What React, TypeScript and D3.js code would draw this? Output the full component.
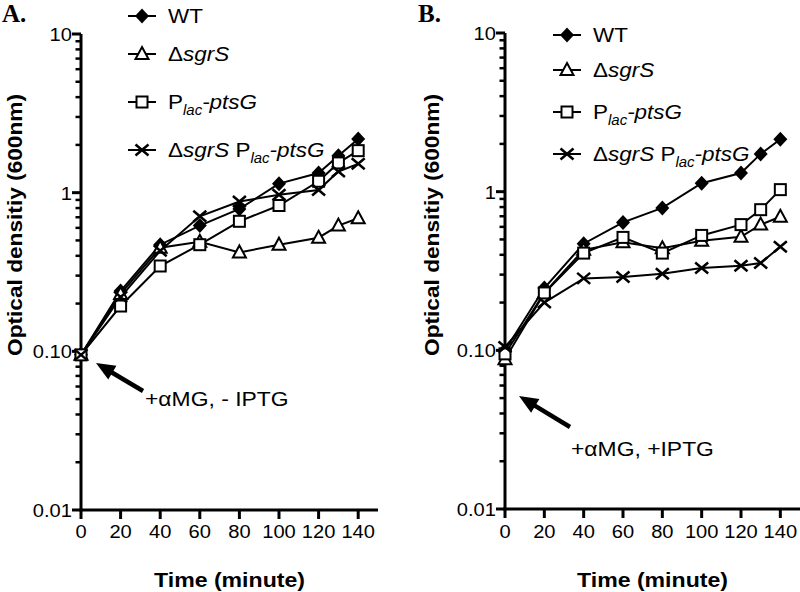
import React from "react";
import * as d3 from "d3";

const times = [0, 20, 40, 60, 80, 100, 120, 130, 140];

const wtA = [0.095, 0.24, 0.47, 0.62, 0.79, 1.14, 1.33, 1.71, 2.18];
const sgrSA = [0.095, 0.23, 0.45, 0.49, 0.42, 0.47, 0.52, 0.62, 0.69];
const placA = [0.095, 0.193, 0.345, 0.47, 0.66, 0.83, 1.18, 1.54, 1.84];
const sgrSPlacA = [0.095, 0.22, 0.43, 0.71, 0.88, 0.97, 1.04, 1.36, 1.52];

const wtB = [0.1, 0.247, 0.47, 0.64, 0.79, 1.13, 1.31, 1.73, 2.14];
const sgrSB = [0.088, 0.23, 0.43, 0.48, 0.44, 0.49, 0.52, 0.62, 0.695];
const placB = [0.095, 0.23, 0.41, 0.515, 0.41, 0.53, 0.62, 0.77, 1.03];
const sgrSPlacB = [0.105, 0.2, 0.284, 0.29, 0.304, 0.33, 0.341, 0.355, 0.45];

const xTicks = [0, 20, 40, 60, 80, 100, 120, 140];
const yTicks = [10, 1, 0.1, 0.01];
const yTickLabels = ["10", "1", "0.10", "0.01"];
const markerTypes = ["diamond", "triangle", "square", "cross"];

const SANS = "'Liberation Sans', Arial, sans-serif";
const SERIF = "'Liberation Serif', 'Times New Roman', serif";

function Txt({
  x,
  y,
  sx = 1.1,
  rot = 0,
  anchor = "start",
  size = 21,
  bold = false,
  family = SANS,
  children,
}: {
  x: number;
  y: number;
  sx?: number;
  rot?: number;
  anchor?: string;
  size?: number;
  bold?: boolean;
  family?: string;
  children?: React.ReactNode;
}) {
  return (
    <text
      transform={`translate(${x},${y}) rotate(${rot}) scale(${sx},1)`}
      textAnchor={anchor}
      fontFamily={family}
      fontSize={size}
      fontWeight={bold ? "bold" : "normal"}
    >
      {children}
    </text>
  );
}

function Marker({ type, x, y }: { type: string; x: number; y: number }) {
  if (type === "diamond")
    return <path d={`M${x},${y - 7.5}L${x + 7},${y}L${x},${y + 7.5}L${x - 7},${y}Z`} fill="#000" />;
  if (type === "triangle")
    return (
      <path
        d={`M${x},${y - 7}L${x + 6.5},${y + 5}L${x - 6.5},${y + 5}Z`}
        fill="#fff"
        stroke="#000"
        strokeWidth={2}
      />
    );
  if (type === "square")
    return <rect x={x - 5.5} y={y - 5.5} width={11} height={11} fill="#fff" stroke="#000" strokeWidth={2} />;
  return (
    <path
      d={`M${x - 6.5},${y - 5.5}L${x + 6.5},${y + 5.5}M${x - 6.5},${y + 5.5}L${x + 6.5},${y - 5.5}`}
      stroke="#000"
      strokeWidth={2.5}
      fill="none"
    />
  );
}

function LegendLabel({ idx }: { idx: number }) {
  if (idx === 0) return <>WT</>;
  if (idx === 1)
    return (
      <>
        Δ<tspan fontStyle="italic">sgrS</tspan>
      </>
    );
  if (idx === 2)
    return (
      <>
        P
        <tspan fontStyle="italic" fontSize={14} dy={6}>
          lac
        </tspan>
        <tspan fontStyle="italic" dy={-6}>
          -ptsG
        </tspan>
      </>
    );
  return (
    <>
      Δ<tspan fontStyle="italic">sgrS</tspan> P
      <tspan fontStyle="italic" fontSize={14} dy={6}>
        lac
      </tspan>
      <tspan fontStyle="italic" dy={-6}>
        -ptsG
      </tspan>
    </>
  );
}

function Arrow({ x1, y1, x2, y2 }: { x1: number; y1: number; x2: number; y2: number }) {
  const dx = x2 - x1;
  const dy = y2 - y1;
  const len = Math.sqrt(dx * dx + dy * dy);
  const ux = dx / len;
  const uy = dy / len;
  const hl = 19;
  const hw = 8;
  const bx = x2 - ux * hl;
  const by = y2 - uy * hl;
  const px = -uy;
  const py = ux;
  return (
    <g>
      <line x1={x1} y1={y1} x2={bx + ux * 2} y2={by + uy * 2} stroke="#000" strokeWidth={4.5} />
      <path
        d={`M${x2},${y2}L${bx + px * hw},${by + py * hw}L${bx - px * hw},${by - py * hw}Z`}
        fill="#000"
      />
    </g>
  );
}

type PanelProps = {
  label: string;
  labelX: number;
  x0: number;
  x1: number;
  yTop: number;
  yBot: number;
  series: number[][];
  legendX: number;
  legendYs: number[];
  titleX: number;
  annot: string;
  annotX: number;
  annotY: number;
  arrow: { x1: number; y1: number; x2: number; y2: number };
};

function Panel(p: PanelProps) {
  const x = d3.scaleLinear().domain([0, 150]).range([p.x0, p.x1]);
  const y = d3.scaleLog().domain([0.01, 10]).range([p.yBot, p.yTop]);
  const line = d3
    .line<number>()
    .x((_, i) => x(times[i]))
    .y((d) => y(d));
  const minor: number[] = [];
  [0.01, 0.1, 1].forEach((dec) => {
    for (let k = 2; k <= 9; k++) minor.push(dec * k);
  });
  const ax = x(0);
  const ay = y(0.01);
  return (
    <g>
      <Txt x={p.labelX} y={22} family={SERIF} bold size={25} sx={1}>
        {p.label}
      </Txt>
      {/* y axis */}
      <line x1={ax} y1={y(10)} x2={ax} y2={ay + 1.5} stroke="#000" strokeWidth={3} />
      {yTicks.map((t) => (
        <line key={"M" + t} x1={ax - 9} x2={ax} y1={y(t)} y2={y(t)} stroke="#000" strokeWidth={3} />
      ))}
      {minor.map((t) => (
        <line key={"m" + t} x1={ax - 5.5} x2={ax} y1={y(t)} y2={y(t)} stroke="#000" strokeWidth={2.5} />
      ))}
      {yTicks.map((t, i) => (
        <Txt key={"l" + t} x={ax - 9} y={y(t) + 7} anchor="end" size={19} sx={1.06}>
          {yTickLabels[i]}
        </Txt>
      ))}
      {/* x axis */}
      <line x1={ax - 1.5} y1={ay} x2={x(150)} y2={ay} stroke="#000" strokeWidth={3} />
      {xTicks.map((t) => (
        <g key={"x" + t}>
          <line x1={x(t)} x2={x(t)} y1={ay} y2={ay + 9} stroke="#000" strokeWidth={3} />
          <Txt x={x(t)} y={538} anchor="middle" size={19} sx={1.06}>
            {t}
          </Txt>
        </g>
      ))}
      <Txt x={(p.x0 + p.x1) / 2} y={587} anchor="middle" bold size={21} sx={1.1}>
        Time (minute)
      </Txt>
      <Txt x={p.titleX} y={225} rot={-90} anchor="middle" bold size={21} sx={1.08}>
        Optical densitiy (600nm)
      </Txt>
      {/* lines */}
      {p.series.map((s, i) => (
        <path key={"s" + i} d={line(s) || ""} fill="none" stroke="#000" strokeWidth={2} />
      ))}
      {p.series.map((s, i) =>
        s.map((v, j) => <Marker key={`mk${i}-${j}`} type={markerTypes[i]} x={x(times[j])} y={y(v)} />)
      )}
      {/* legend */}
      {markerTypes.map((m, i) => (
        <g key={"lg" + i}>
          <line
            x1={p.legendX - 14}
            x2={p.legendX + 14}
            y1={p.legendYs[i]}
            y2={p.legendYs[i]}
            stroke="#000"
            strokeWidth={2}
          />
          <Marker type={m} x={p.legendX} y={p.legendYs[i]} />
          <Txt x={p.legendX + 26} y={p.legendYs[i] + 7} size={21} sx={1.07}>
            <LegendLabel idx={i} />
          </Txt>
        </g>
      ))}
      <Arrow {...p.arrow} />
      <Txt x={p.annotX} y={p.annotY} size={21} sx={1.09}>
        +αMG, {p.annot}
      </Txt>
    </g>
  );
}

export default function App() {
  return (
    <svg
      width={800}
      height={592}
      style={{ position: "absolute", left: 0, top: 0, background: "#fff" }}
    >
      <rect width={800} height={592} fill="#fff" />
      <Panel
        label="A."
        labelX={2}
        x0={81}
        x1={378}
        yTop={34}
        yBot={510}
        series={[wtA, sgrSA, placA, sgrSPlacA]}
        legendX={142}
        legendYs={[16, 54, 102, 150]}
        titleX={22}
        annot="- IPTG"
        annotX={145}
        annotY={406}
        arrow={{ x1: 143, y1: 391, x2: 96, y2: 363 }}
      />
      <Panel
        label="B."
        labelX={418}
        x0={505}
        x1={800}
        yTop={33}
        yBot={509}
        series={[wtB, sgrSB, placB, sgrSPlacB]}
        legendX={567}
        legendYs={[35, 70, 112, 154]}
        titleX={439}
        annot="+IPTG"
        annotX={571}
        annotY={456}
        arrow={{ x1: 570, y1: 427, x2: 519, y2: 396 }}
      />
    </svg>
  );
}
